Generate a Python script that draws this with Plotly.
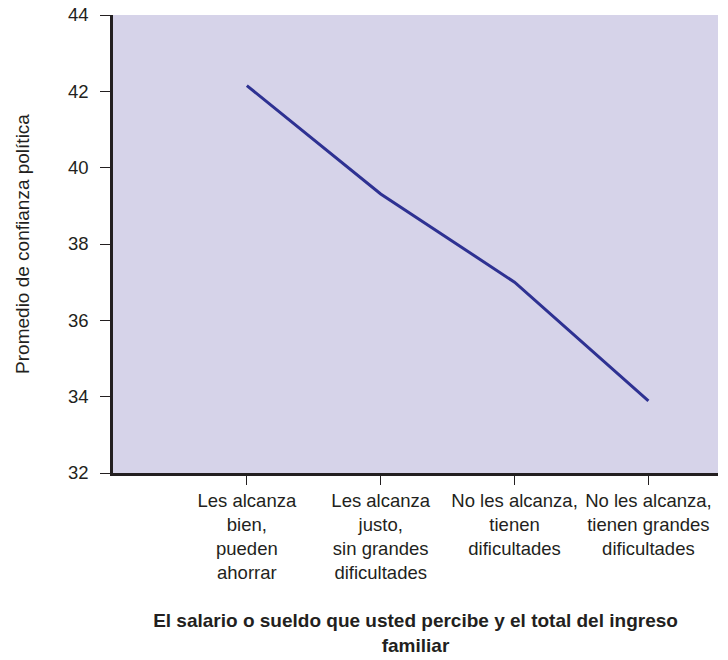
import plotly.graph_objects as go

# Categories of household income sufficiency and mean political trust
categorias = [
    "Les alcanza<br>bien,<br>pueden<br>ahorrar",
    "Les alcanza<br>justo,<br>sin grandes<br>dificultades",
    "No les alcanza,<br>tienen<br>dificultades",
    "No les alcanza,<br>tienen grandes<br>dificultades",
]
posiciones = [1, 2, 3, 4]
confianza = [42.15, 39.31, 37.0, 33.89]

y_ticks = [32, 34, 36, 38, 40, 42, 44]

FONT = "Liberation Sans, Arial, Helvetica, sans-serif"
AXIS_COLOR = "#231F20"

fig = go.Figure(
    go.Scatter(
        x=posiciones,
        y=confianza,
        mode="lines",
        line=dict(color="#2E3192", width=3),
        showlegend=False,
        hoverinfo="skip",
    )
)

fig.update_layout(
    width=728,
    height=660,
    margin=dict(l=113, r=10, t=15, b=187),
    paper_bgcolor="white",
    plot_bgcolor="#D6D3E9",
    font=dict(family=FONT, color=AXIS_COLOR, size=18),
)

fig.update_xaxes(
    range=[0, 4.52],
    tickvals=posiciones,
    ticktext=categorias,
    automargin=False,
    ticks="outside",
    ticklen=9,
    tickwidth=1,
    tickcolor=AXIS_COLOR,
    showline=True,
    linecolor=AXIS_COLOR,
    linewidth=2.5,
    showgrid=False,
    zeroline=False,
    tickfont=dict(size=18.5),
    title=dict(
        text="<b>El salario o sueldo que usted percibe y el total del ingreso<br>familiar</b>",
        font=dict(size=19, family=FONT),
        standoff=32,
    ),
)

fig.update_yaxes(
    range=[32, 44],
    tickvals=y_ticks,
    automargin=False,
    ticks="outside",
    ticklen=10,
    tickwidth=1,
    tickcolor=AXIS_COLOR,
    ticklabelstandoff=8,
    showline=True,
    linecolor=AXIS_COLOR,
    linewidth=2.5,
    showgrid=False,
    zeroline=False,
    tickfont=dict(size=18.5),
    title=dict(
        text="Promedio de confianza política",
        font=dict(size=19, family=FONT),
        standoff=34,
    ),
)

fig.write_html("out.html")
